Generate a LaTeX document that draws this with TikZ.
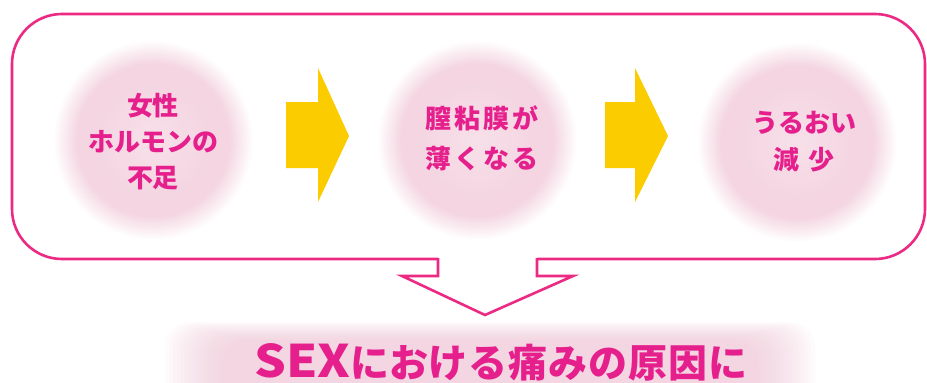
\documentclass[tikz,border=0pt]{standalone}
\usepackage{fontspec}
\usepackage{graphicx}
\newfontfamily\jp{Noto Sans CJK JP}
\definecolor{linepink}{HTML}{EC2A84}
\definecolor{textpink}{HTML}{E5208C}
\definecolor{arrowyellow}{HTML}{FBCC00}
\definecolor{diskA}{HTML}{F7E0E9}
\definecolor{diskB}{HTML}{F4D5E1}
\definecolor{bandpink}{HTML}{F4C2D5}
\pgfdeclareradialshading{pinkdisk}{\pgfpoint{0bp}{0bp}}{color(0bp)=(diskA);color(15bp)=(diskB);color(19bp)=(diskB);color(25bp)=(white);color(50bp)=(white)}
\tikzset{
  disk/.style={shading=pinkdisk},
  disktext/.style={text=textpink, align=center, font=\jp\bfseries\fontsize{26}{36}\selectfont},
  bigtext/.style={text=textpink, anchor=base, inner sep=0pt, font=\jp\bfseries\fontsize{39}{44}\selectfont},
  yarrow/.style={fill=arrowyellow},
  frame/.style={draw=linepink, line width=2.6pt},
}
\begin{document}
\begin{tikzpicture}[x=1pt,y=-1pt]
\useasboundingbox (0,0) rectangle (927,383);
\fill[white] (0,0) rectangle (927,383);
% pink band behind the bottom text
\foreach \i in {0,...,14}{
  \fill[bandpink, opacity=0.06, rounded corners=25]
    (165+4*\i, 322+1.3*\i) rectangle (815-4*\i, 420);
}
% disks
\shade[disk] (153,140) circle (100);
\shade[disk] (477,140) circle (100);
\shade[disk] (797,142) circle (100);
% frame with callout notch
\draw[frame, rounded corners=50] (438,259) -- (12,259) -- (12,14) -- (925,14) -- (925,259) -- (537,259);
\draw[frame, line join=miter] (438,258) -- (438,276) -- (402,276) -- (485,315) -- (573,276) -- (537,276) -- (537,258);
% yellow arrows
\fill[yarrow] (286,102) -- (318,102) -- (318,68) -- (349,136) -- (318,202) -- (318,168) -- (286,168) -- cycle;
\fill[yarrow] (605,102) -- (635,102) -- (635,68) -- (668,136) -- (635,202) -- (635,168) -- (605,168) -- cycle;
% texts
\node[disktext] (t1) at (153,142) {女性\\ホルモンの\\不足};
\node[disktext, font=\jp\bfseries\fontsize{26}{40}\selectfont] (t2) at (482,138) {膣\kern3pt粘\kern3pt膜\kern3ptが\\薄\kern3ptく\kern3ptな\kern3ptる};
\node[disktext, font=\jp\bfseries\fontsize{26}{37}\selectfont] (t3) at (804,142) {うるおい\\減\hspace{10pt}少};
\node[bigtext] (t4) at (501,377) {\scalebox{1.28}[1.15]{SEX}におけ\kern1pt る\kern1pt 痛\kern1pt み\kern1pt の\kern1pt 原\kern1pt 因\kern1pt に};
\end{tikzpicture}
\end{document}
